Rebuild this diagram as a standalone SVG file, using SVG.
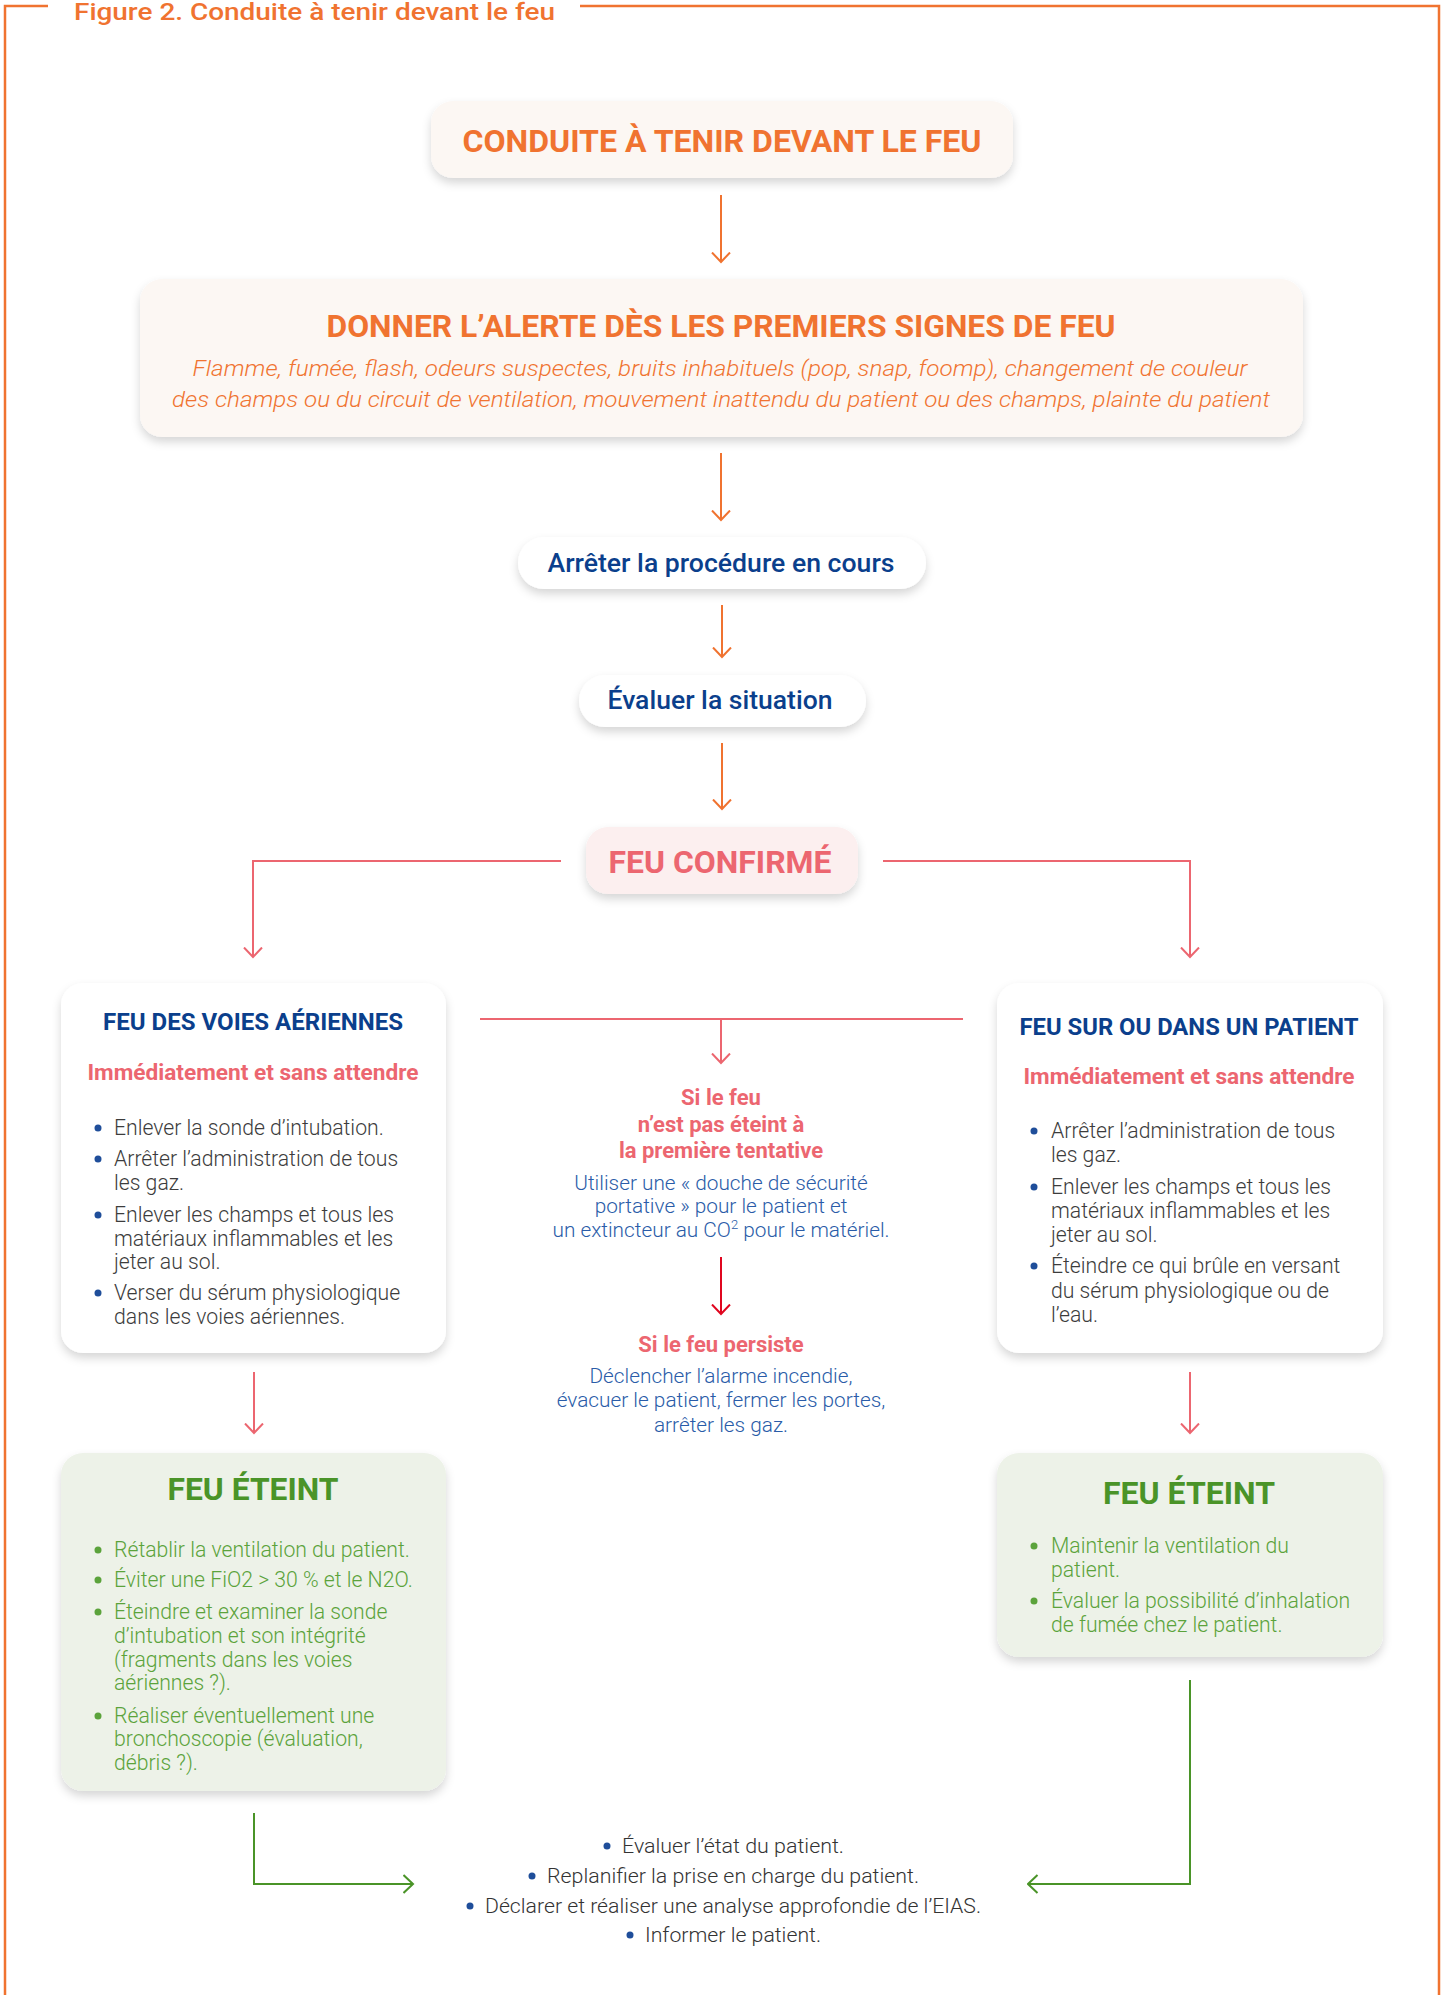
<svg xmlns="http://www.w3.org/2000/svg" width="1448" height="1995" viewBox="0 0 1448 1995">
<style>
.frame{fill:none;stroke:#F07330;stroke-width:2.5}
.conn{fill:none;stroke-width:2}
.or{stroke:#F07330}
.sa{stroke:#EC6670}
.rd{stroke:#E0061F}
.gr{stroke:#4A9428}
text{font-family:Roboto,"Liberation Sans",sans-serif}
.h1{font-size:32px;font-weight:700;fill:#F07330;text-anchor:middle}
.it{font-size:22px;font-weight:300;font-style:italic;fill:#F07330;text-anchor:middle}
.pill{font-size:26px;font-weight:500;fill:#0B3F8C;text-anchor:middle}
.conf{font-size:32px;font-weight:700;fill:#EC6670;text-anchor:middle}
.bt{font-size:24px;font-weight:700;fill:#0B3F8C;text-anchor:middle}
.st{font-size:22px;font-weight:700;fill:#EC6670;text-anchor:middle}
.body{font-size:21.2px;font-weight:300;fill:#3C3C3C}
.ct{font-size:22px;font-weight:700;fill:#EC6670;text-anchor:middle}
.cb{font-size:20.8px;font-weight:300;fill:#2A5CA8;text-anchor:middle}
.gt{font-size:31px;font-weight:700;fill:#4A9428;text-anchor:middle}
.gb{font-size:21.2px;font-weight:300;fill:#5BA33B}
.bb{font-size:20.5px;font-weight:300;fill:#333333}
.dot{fill:#1F4E9A}
.gdot{fill:#5BA33B}
.box{filter:url(#sh)}
</style>
<defs>
<filter id="sh" x="-10%" y="-20%" width="120%" height="150%">
<feDropShadow dx="0" dy="5" stdDeviation="5" flood-color="#000000" flood-opacity="0.16"/>
</filter>
<marker id="aO" viewBox="0 0 12 20" refX="10.5" refY="10" markerWidth="12" markerHeight="20" markerUnits="userSpaceOnUse" orient="auto"><path d="M1,1 L10.5,10 L1,19" fill="none" stroke="#F07330" stroke-width="2"/></marker>
<marker id="aS" viewBox="0 0 12 20" refX="10.5" refY="10" markerWidth="12" markerHeight="20" markerUnits="userSpaceOnUse" orient="auto"><path d="M1,1 L10.5,10 L1,19" fill="none" stroke="#EC6670" stroke-width="2"/></marker>
<marker id="aR" viewBox="0 0 12 20" refX="10.5" refY="10" markerWidth="12" markerHeight="20" markerUnits="userSpaceOnUse" orient="auto"><path d="M1,1 L10.5,10 L1,19" fill="none" stroke="#E0061F" stroke-width="2"/></marker>
<marker id="aG" viewBox="0 0 12 20" refX="10.5" refY="10" markerWidth="12" markerHeight="20" markerUnits="userSpaceOnUse" orient="auto"><path d="M1,1 L10.5,10 L1,19" fill="none" stroke="#4A9428" stroke-width="2"/></marker>
</defs>
<rect x="0" y="0" width="1448" height="1995" fill="#FFFFFF"/>

<g id="frame">
<path class="frame" d="M48,6 H5 V1995"/>
<path class="frame" d="M580,6 H1439 V1995"/>
<text x="74" y="20" font-size="24" font-weight="500" fill="#F07330" textLength="481" lengthAdjust="spacingAndGlyphs">Figure 2. Conduite à tenir devant le feu</text>
</g>

<g id="connectors">
<path class="conn or" d="M721,195 V262" marker-end="url(#aO)"/>
<path class="conn or" d="M721,453 V520" marker-end="url(#aO)"/>
<path class="conn or" d="M722,605 V657" marker-end="url(#aO)"/>
<path class="conn or" d="M722,743 V809" marker-end="url(#aO)"/>
<path class="conn sa" d="M561,861 H253 V957" marker-end="url(#aS)"/>
<path class="conn sa" d="M883,861 H1190 V957" marker-end="url(#aS)"/>
<path class="conn sa" d="M480,1019 H963"/>
<path class="conn sa" d="M721,1019 V1063" marker-end="url(#aS)"/>
<path class="conn rd" d="M721,1257 V1314" marker-end="url(#aR)"/>
<path class="conn sa" d="M254,1372 V1433" marker-end="url(#aS)"/>
<path class="conn sa" d="M1190,1372 V1433" marker-end="url(#aS)"/>
<path class="conn gr" d="M254,1813 V1884 H413" marker-end="url(#aG)"/>
<path class="conn gr" d="M1190,1680 V1884 H1028" marker-end="url(#aG)"/>
</g>

<g id="n-conduite">
<rect class="box" x="431" y="101" width="582" height="77" rx="22" fill="#FCF7F3"/>
<text class="h1" x="722" y="152" textLength="519" lengthAdjust="spacingAndGlyphs">CONDUITE À TENIR DEVANT LE FEU</text>
</g>

<g id="n-alerte">
<rect class="box" x="140" y="279" width="1163" height="158" rx="22" fill="#FCF7F3"/>
<text class="h1" x="721" y="337" textLength="789" lengthAdjust="spacingAndGlyphs">DONNER L’ALERTE DÈS LES PREMIERS SIGNES DE FEU</text>
<text class="it" x="720" y="376" textLength="1055" lengthAdjust="spacingAndGlyphs">Flamme, fumée, flash, odeurs suspectes, bruits inhabituels (pop, snap, foomp), changement de couleur</text>
<text class="it" x="721" y="407" textLength="1098" lengthAdjust="spacingAndGlyphs">des champs ou du circuit de ventilation, mouvement inattendu du patient ou des champs, plainte du patient</text>
</g>

<g id="n-arreter">
<rect class="box" x="518" y="537" width="408" height="52" rx="26" fill="#FFFFFF"/>
<text class="pill" x="721" y="572" textLength="347" lengthAdjust="spacingAndGlyphs">Arrêter la procédure en cours</text>
</g>

<g id="n-evaluer">
<rect class="box" x="579" y="675" width="287" height="52" rx="26" fill="#FFFFFF"/>
<text class="pill" x="720" y="709" textLength="225" lengthAdjust="spacingAndGlyphs">Évaluer la situation</text>
</g>

<g id="n-confirme">
<rect class="box" x="586" y="827" width="272" height="67" rx="22" fill="#FCEFEF"/>
<text class="conf" x="720" y="873" textLength="223" lengthAdjust="spacingAndGlyphs">FEU CONFIRMÉ</text>
</g>

<g id="n-voies">
<rect class="box" x="61" y="983" width="385" height="370" rx="22" fill="#FFFFFF"/>
<text class="bt" x="253" y="1030" textLength="300" lengthAdjust="spacingAndGlyphs">FEU DES VOIES AÉRIENNES</text>
<text class="st" x="253" y="1080" textLength="331" lengthAdjust="spacingAndGlyphs">Immédiatement et sans attendre</text>
<circle class="dot" cx="98" cy="1128" r="3.5"/>
<circle class="dot" cx="98" cy="1159" r="3.5"/>
<circle class="dot" cx="98" cy="1215" r="3.5"/>
<circle class="dot" cx="98" cy="1293" r="3.5"/>
<text class="body" x="114" y="1135">Enlever la sonde d’intubation.</text>
<text class="body" x="114" y="1166">Arrêter l’administration de tous</text>
<text class="body" x="114" y="1190">les gaz.</text>
<text class="body" x="114" y="1222">Enlever les champs et tous les</text>
<text class="body" x="114" y="1246">matériaux inflammables et les</text>
<text class="body" x="114" y="1269">jeter au sol.</text>
<text class="body" x="114" y="1300">Verser du sérum physiologique</text>
<text class="body" x="114" y="1324">dans les voies aériennes.</text>
</g>

<g id="n-patient">
<rect class="box" x="997" y="983" width="386" height="370" rx="22" fill="#FFFFFF"/>
<text class="bt" x="1189" y="1035" textLength="339" lengthAdjust="spacingAndGlyphs">FEU SUR OU DANS UN PATIENT</text>
<text class="st" x="1189" y="1084" textLength="331" lengthAdjust="spacingAndGlyphs">Immédiatement et sans attendre</text>
<circle class="dot" cx="1034" cy="1131" r="3.5"/>
<circle class="dot" cx="1034" cy="1187" r="3.5"/>
<circle class="dot" cx="1034" cy="1266" r="3.5"/>
<text class="body" x="1051" y="1138">Arrêter l’administration de tous</text>
<text class="body" x="1051" y="1162">les gaz.</text>
<text class="body" x="1051" y="1194">Enlever les champs et tous les</text>
<text class="body" x="1051" y="1218">matériaux inflammables et les</text>
<text class="body" x="1051" y="1242">jeter au sol.</text>
<text class="body" x="1051" y="1273">Éteindre ce qui brûle en versant</text>
<text class="body" x="1051" y="1298">du sérum physiologique ou de</text>
<text class="body" x="1051" y="1322">l’eau.</text>
</g>

<g id="n-premiere">
<text class="ct" x="721" y="1105">Si le feu</text>
<text class="ct" x="721" y="1132">n’est pas éteint à</text>
<text class="ct" x="721" y="1158">la première tentative</text>
<text class="cb" x="721" y="1190">Utiliser une « douche de sécurité</text>
<text class="cb" x="721" y="1213">portative » pour le patient et</text>
<text class="cb" x="721" y="1237">un extincteur au CO<tspan font-size="13" dy="-8">2</tspan><tspan dy="8"> pour le matériel.</tspan></text>
</g>

<g id="n-persiste">
<text class="ct" x="721" y="1352">Si le feu persiste</text>
<text class="cb" x="721" y="1383">Déclencher l’alarme incendie,</text>
<text class="cb" x="721" y="1407">évacuer le patient, fermer les portes,</text>
<text class="cb" x="721" y="1432">arrêter les gaz.</text>
</g>

<g id="n-eteint-gauche">
<rect class="box" x="61" y="1453" width="385" height="338" rx="22" fill="#EDF2E8"/>
<text class="gt" x="253" y="1500" textLength="171" lengthAdjust="spacingAndGlyphs">FEU ÉTEINT</text>
<circle class="gdot" cx="98" cy="1550" r="3.5"/>
<circle class="gdot" cx="98" cy="1580" r="3.5"/>
<circle class="gdot" cx="98" cy="1612" r="3.5"/>
<circle class="gdot" cx="98" cy="1716" r="3.5"/>
<text class="gb" x="114" y="1557">Rétablir la ventilation du patient.</text>
<text class="gb" x="114" y="1587">Éviter une FiO2 &gt; 30 % et le N2O.</text>
<text class="gb" x="114" y="1619">Éteindre et examiner la sonde</text>
<text class="gb" x="114" y="1643">d’intubation et son intégrité</text>
<text class="gb" x="114" y="1667">(fragments dans les voies</text>
<text class="gb" x="114" y="1690">aériennes ?).</text>
<text class="gb" x="114" y="1723">Réaliser éventuellement une</text>
<text class="gb" x="114" y="1746">bronchoscopie (évaluation,</text>
<text class="gb" x="114" y="1770">débris ?).</text>
</g>

<g id="n-eteint-droite">
<rect class="box" x="997" y="1453" width="386" height="204" rx="22" fill="#EDF2E8"/>
<text class="gt" x="1189" y="1504" textLength="172" lengthAdjust="spacingAndGlyphs">FEU ÉTEINT</text>
<circle class="gdot" cx="1034" cy="1546" r="3.5"/>
<circle class="gdot" cx="1034" cy="1601" r="3.5"/>
<text class="gb" x="1051" y="1553">Maintenir la ventilation du</text>
<text class="gb" x="1051" y="1577">patient.</text>
<text class="gb" x="1051" y="1608">Évaluer la possibilité d’inhalation</text>
<text class="gb" x="1051" y="1632">de fumée chez le patient.</text>
</g>

<g id="n-suite">
<circle class="dot" cx="607" cy="1846" r="3.5"/>
<circle class="dot" cx="532" cy="1876" r="3.5"/>
<circle class="dot" cx="470" cy="1906" r="3.5"/>
<circle class="dot" cx="630" cy="1935" r="3.5"/>
<text class="bb" x="622" y="1853" textLength="222" lengthAdjust="spacingAndGlyphs">Évaluer l’état du patient.</text>
<text class="bb" x="547" y="1883" textLength="372" lengthAdjust="spacingAndGlyphs">Replanifier la prise en charge du patient.</text>
<text class="bb" x="485" y="1913" textLength="496" lengthAdjust="spacingAndGlyphs">Déclarer et réaliser une analyse approfondie de l’EIAS.</text>
<text class="bb" x="645" y="1942" textLength="176" lengthAdjust="spacingAndGlyphs">Informer le patient.</text>
</g>
</svg>
